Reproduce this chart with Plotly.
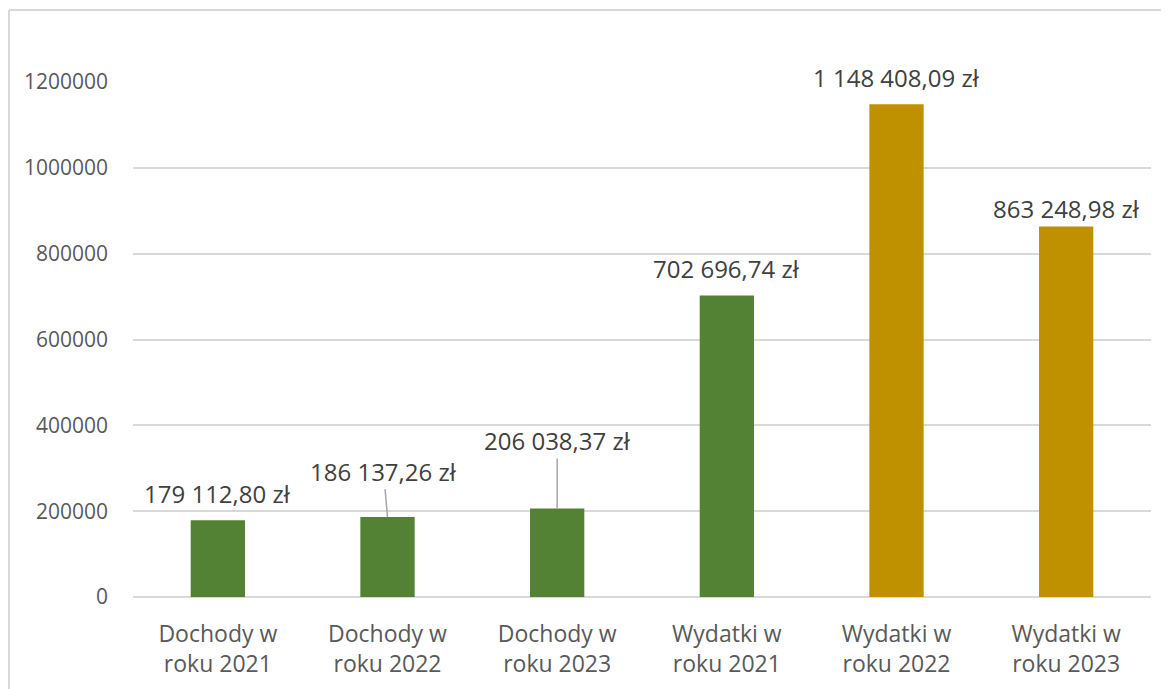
import plotly.graph_objects as go

kategorie = ["Dochody w<br>roku 2021", "Dochody w<br>roku 2022", "Dochody w<br>roku 2023",
             "Wydatki w<br>roku 2021", "Wydatki w<br>roku 2022", "Wydatki w<br>roku 2023"]
wartosci = [179112.80, 186137.26, 206038.37, 702696.74, 1148408.09, 863248.98]
kolory = ["#548235", "#548235", "#548235", "#548235", "#bf9000", "#bf9000"]
ticki_y = [0, 200000, 400000, 600000, 800000, 1000000, 1200000]

# przesunięcia etykiet (px): (ax, ay) dla linii odniesienia albo yshift
przesuniecia = [(None, 27), ((-4, -46), None), ((0, -68), None),
                (None, 27), (None, 27), (None, 18)]

czcionka = "Open Sans"
szary_siatki = "#d9d9d9"

# strona ma 8 px marginesu, więc figura jest o tyle mniejsza
W, H = 1161, 681
L, R, T, B = 125, 18, 74, 92


def format_zl(v):
    calk, ulam = f"{v:.2f}".split(".")
    calk = f"{int(calk):,}".replace(",", " ")
    return f"{calk},{ulam} zł"


fig = go.Figure()
fig.add_trace(go.Bar(
    x=kategorie,
    y=wartosci,
    marker=dict(color=kolory, line=dict(width=0)),
    width=0.32,
    hoverinfo="skip",
))

for kat, val, (strz, shift) in zip(kategorie, wartosci, przesuniecia):
    if strz is not None:
        fig.add_annotation(x=kat, y=val, text=format_zl(val),
                           showarrow=True, arrowhead=0, arrowwidth=1.5,
                           arrowcolor="#a6a6a6", ax=strz[0], ay=strz[1],
                           font=dict(family=czcionka, size=24, color="#404040"))
    else:
        fig.add_annotation(x=kat, y=val, text=format_zl(val),
                           showarrow=False, yanchor="middle", yshift=shift,
                           font=dict(family=czcionka, size=24, color="#404040"))

# ramka wykresu (góra i lewa krawędź)
pw, ph = W - L - R, H - T - B
x_lewy = (1 - L) / pw
x_prawy = (W - L) / pw
y_gora = (H - B - 2) / ph
y_dol = -B / ph
fig.add_shape(type="line", xref="paper", yref="paper", x0=x_lewy, x1=x_prawy,
              y0=y_gora, y1=y_gora, line=dict(color=szary_siatki, width=2))
fig.add_shape(type="line", xref="paper", yref="paper", x0=x_lewy, x1=x_lewy,
              y0=y_gora, y1=y_dol, line=dict(color=szary_siatki, width=2))

fig.update_layout(
    width=W, height=H,
    margin=dict(l=L, r=R, t=T, b=B, pad=0),
    plot_bgcolor="white",
    paper_bgcolor="white",
    showlegend=False,
)
fig.update_xaxes(
    showgrid=False, showline=False, ticks="", automargin=False,
    ticklabelstandoff=21,
    tickfont=dict(family=czcionka, size=23, color="#595959"),
)
fig.update_yaxes(
    range=[0, 1200000], tickvals=ticki_y, ticktext=[str(t) for t in ticki_y],
    showgrid=True, gridcolor=szary_siatki, gridwidth=1.5,
    zeroline=True, zerolinecolor=szary_siatki, zerolinewidth=1.5,
    showline=False, ticks="", ticklabelstandoff=24, automargin=False,
    tickfont=dict(family=czcionka, size=21, color="#595959"),
)

fig.write_html("out.html")
